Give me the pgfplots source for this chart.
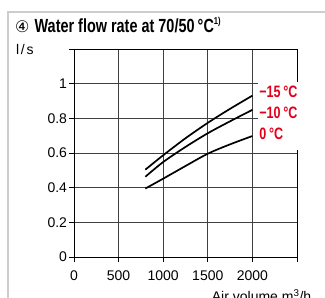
\documentclass[border=0pt]{standalone}
\usepackage{fontspec}
\setmainfont{Liberation Sans}
\newfontfamily\condbf{Liberation Sans}[FakeStretch=0.76]
\newfontfamily\wide{Liberation Sans}[LetterSpace=12]
\newfontfamily\dejavu{DejaVu Sans}
\usepackage{pgfplots}
\pgfplotsset{compat=1.18}
\definecolor{labred}{RGB}{226,0,26}
\definecolor{framegray}{RGB}{205,205,205}
\begin{document}
\begin{tikzpicture}[x=1pt,y=1pt]
\path[use as bounding box] (-74,-41) rectangle (251,257);
\draw[framegray, line width=1.4pt] (-66,-45) -- (-66,245) -- (260,245);
\node[anchor=base west, inner sep=0] at (-59,225) {\dejavu\fontsize{16}{20}\selectfont ④\ \fontsize{19}{20}\selectfont\condbf\bfseries Water flow rate at 70/50\,°C\raisebox{0.42em}{\fontsize{10}{10}\selectfont 1)}};
\node[anchor=base west, inner sep=0] at (-58,203) {\fontsize{14}{16}\selectfont\wide l/s};
\begin{axis}[
  at={(0,0)}, anchor=origin,
  scale only axis, width=223pt, height=208pt,
  xmin=0, xmax=2500, ymin=0, ymax=1.2,
  xtick={0,500,...,2500}, xticklabels={0,500,1000,1500,2000,},
  ytick={0,0.2,0.4,0.6,0.8,1,1.2}, yticklabels={0,0.2,0.4,0.6,0.8,1,},
  tick align=outside, tick pos=left,
  major tick length=5pt,
  grid=major,
  grid style={black!75, line width=0.6pt},
  axis line style={black, line width=0.8pt},
  tick style={black, line width=0.6pt},
  ticklabel style={font=\fontsize{14}{16}\selectfont},
  xticklabel style={yshift=-5pt},
  yticklabel style={xshift=1.5pt},
  /pgf/number format/assume math mode=true,
  /pgf/number format/1000 sep={},
  clip=false,
]
\addplot[black, line width=1.7pt, smooth] coordinates {(800,0.504) (1000,0.587) (1250,0.685) (1500,0.774) (1750,0.855) (2000,0.931)};
\addplot[black, line width=1.7pt, smooth] coordinates {(800,0.463) (1000,0.548) (1250,0.635) (1500,0.714) (1750,0.783) (2000,0.849)};
\addplot[black, line width=1.7pt, smooth] coordinates {(800,0.395) (1000,0.452) (1250,0.525) (1500,0.596) (1750,0.650) (2000,0.698)};
\fill[white] (axis cs:2060,0.618) rectangle (axis cs:2750,1.008);
\node[anchor=west, inner sep=0, text=labred] at (axis cs:2075,0.952) {\fontsize{16.5}{18}\selectfont\condbf\bfseries −15\,°C};
\node[anchor=west, inner sep=0, text=labred] at (axis cs:2075,0.833) {\fontsize{16.5}{18}\selectfont\condbf\bfseries −10\,°C};
\node[anchor=west, inner sep=0, text=labred] at (axis cs:2075,0.712) {\fontsize{16.5}{18}\selectfont\condbf\bfseries 0\,°C};
\end{axis}
\node[anchor=base west, inner sep=0] at (137.7,-45) {\fontsize{14}{16}\selectfont Air volume m\textsuperscript{3}/h};
\end{tikzpicture}
\end{document}
